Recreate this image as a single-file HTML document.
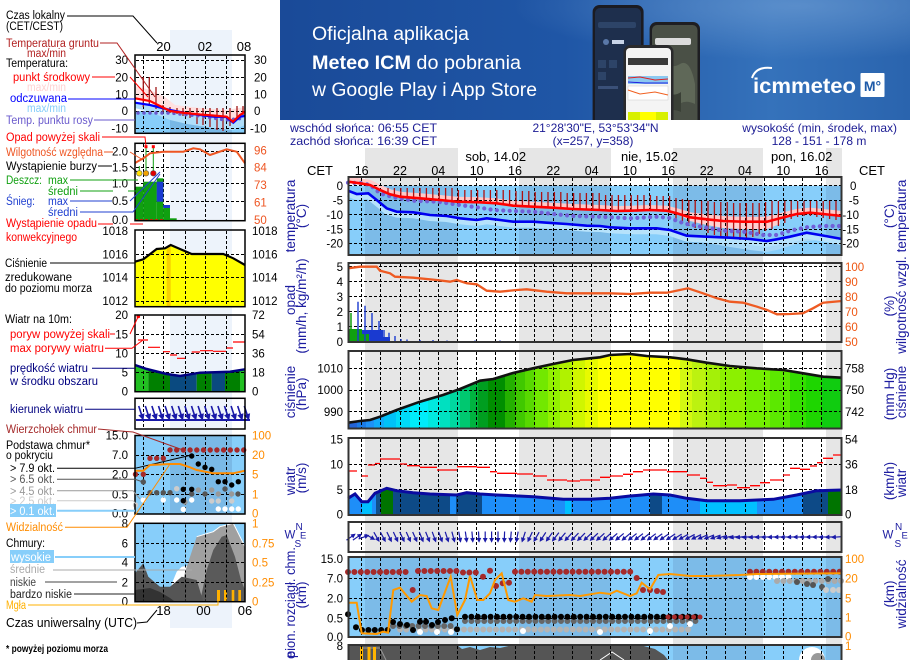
<!DOCTYPE html>
<html><head><meta charset="utf-8">
<style>
html,body{margin:0;padding:0;background:#fff;width:910px;height:660px;overflow:hidden;}
svg{display:block;overflow:hidden;font-family:"Liberation Sans",Arial,sans-serif;}
</style></head><body>
<svg width="910" height="660" viewBox="0 0 910 660" xmlns="http://www.w3.org/2000/svg" xmlns:xlink="http://www.w3.org/1999/xlink">
<defs>
 <linearGradient id="bn" x1="0" y1="0" x2="1" y2="0">
  <stop offset="0" stop-color="#1a4a98"/><stop offset="0.45" stop-color="#1f56a6"/>
  <stop offset="0.78" stop-color="#3572bb"/><stop offset="1" stop-color="#2a64ae"/>
 </linearGradient>
 <radialGradient id="bh" cx="0.82" cy="0.05" r="0.45">
  <stop offset="0" stop-color="#6a9ad2" stop-opacity="0.7"/><stop offset="1" stop-color="#6a9ad2" stop-opacity="0"/>
 </radialGradient>
 <path id="v77" d="M361.5 0v77M380.5 0v77M400.5 0v77M419.5 0v77M438.5 0v77M457.5 0v77M476.5 0v77M495.5 0v77M515.5 0v77M534.5 0v77M553.5 0v77M572.5 0v77M591.5 0v77M610.5 0v77M630.5 0v77M649.5 0v77M668.5 0v77M687.5 0v77M706.5 0v77M725.5 0v77M745.5 0v77M764.5 0v77M783.5 0v77M802.5 0v77M821.5 0v77"/>
 <path id="v30" d="M361.5 0v30M380.5 0v30M400.5 0v30M419.5 0v30M438.5 0v30M457.5 0v30M476.5 0v30M495.5 0v30M515.5 0v30M534.5 0v30M553.5 0v30M572.5 0v30M591.5 0v30M610.5 0v30M630.5 0v30M649.5 0v30M668.5 0v30M687.5 0v30M706.5 0v30M725.5 0v30M745.5 0v30M764.5 0v30M783.5 0v30M802.5 0v30M821.5 0v30"/>
 <path id="v14" d="M361.5 0v14M380.5 0v14M400.5 0v14M419.5 0v14M438.5 0v14M457.5 0v14M476.5 0v14M495.5 0v14M515.5 0v14M534.5 0v14M553.5 0v14M572.5 0v14M591.5 0v14M610.5 0v14M630.5 0v14M649.5 0v14M668.5 0v14M687.5 0v14M706.5 0v14M725.5 0v14M745.5 0v14M764.5 0v14M783.5 0v14M802.5 0v14M821.5 0v14"/>
 <path id="mv" d="M143.5 0v76M163.5 0v76M185.5 0v76M205.5 0v76M226.5 0v76"/>
 <g id="ar"><path d="M0 -5.5V2.5" stroke="#1a1aa8" stroke-width="1.2" fill="none"/><path d="M-2.4 1L0 5.8L2.4 1Z" fill="#1a1aa8"/></g>
 <clipPath id="cp"><polygon points="348,422.7 360,421 370,420 380,416.7 396.7,410 420,401.7 443,395 460,389 480,380.7 493.3,379 513,373 533,368.3 553,364 573,360 590,358.3 600,357.3 610,355 630,354 646.7,356 670,357.3 686.7,359.3 706.7,362.7 730,366 756.7,368.3 783.3,370 803.3,373.3 823.3,376.7 842,377.7 842,429 348,429"/></clipPath>
 <clipPath id="cw"><polygon points="348,498.3 355,494 361.7,501.7 368,501.7 375,493.3 386.7,488.3 396.7,490.7 413,492.7 430,494 456.7,495 466.7,492.7 480,494 496.7,495 513.3,495.7 533.3,496.7 563.3,499.3 590,499.3 610,498.3 630,496 653.3,494 670,495 686.7,498.3 706.7,500.7 740,500.7 773.3,499.3 796.7,495 816.7,490.7 842,490 842,516 348,516"/></clipPath>
 <clipPath id="mcp"><polygon points="135,261.7 143.3,259.3 156.7,249 165,248.3 170.7,245 180,249 191.7,254 223.3,254 233.3,258.3 245,265 245,307 135,307"/></clipPath>
 <clipPath id="mcw"><polygon points="135,365 146.7,369 166.7,374 180,376 200,372.7 230,371.7 245,369.3 245,392 135,392"/></clipPath>
</defs>

<rect width="910" height="660" fill="#fff"/>

<!-- ============ BANNER ============ -->
<rect x="280" y="0" width="630" height="120" fill="url(#bn)"/>
<rect x="280" y="0" width="630" height="120" fill="url(#bh)"/>
<text x="312" y="40" font-size="19" fill="#fff" textLength="157" lengthAdjust="spacingAndGlyphs">Oficjalna aplikacja</text>
<text x="312" y="69" font-size="19" fill="#fff" textLength="209" lengthAdjust="spacingAndGlyphs"><tspan font-weight="bold">Meteo ICM</tspan> do pobrania</text>
<text x="312" y="96" font-size="19" fill="#fff" textLength="225" lengthAdjust="spacingAndGlyphs">w Google Play i App Store</text>
<!-- phones -->
<path d="M592.6 120V12a7 7 0 0 1 7-7h37a7 7 0 0 1 7 7V120Z" fill="#1b1b22"/>
<path d="M595 120V13a5 5 0 0 1 5-5h36a5 5 0 0 1 5 5V120Z" fill="#1e2f4d"/>
<rect x="598" y="22" width="38" height="6" rx="2" fill="#2d4468"/>
<circle cx="606" cy="42" r="3" fill="#5a78a8"/><rect x="612" y="40" width="12" height="4" fill="#c8d4e8"/>
<rect x="598" y="60" width="8" height="8" fill="#2d4468"/><rect x="609" y="60" width="8" height="8" fill="#2d4468"/>
<rect x="598" y="72" width="8" height="8" fill="#2d4468"/><rect x="598" y="86" width="20" height="3" fill="#3a5078"/>
<path d="M649.6 120V29a7 7 0 0 1 7-7h36.4a7 7 0 0 1 7 7V120Z" fill="#1e1e22"/>
<path d="M652 120V30a5 5 0 0 1 5-5h35.5a5 5 0 0 1 5 5V120Z" fill="#4a5046"/>
<rect x="655" y="38" width="36" height="7" rx="2" fill="#dcdcdc"/>
<path d="M660 60 q10 10 20 4 t15 20 v20 q-12 -6 -20 4 t-15 -10Z" fill="#5f6858"/>
<path d="M665 90 q8 8 16 2 v20 q-8 -4 -16 0Z" fill="#3a4036"/>
<path d="M623.5 120V52a7 7 0 0 1 7-7h36a7 7 0 0 1 7 7V120Z" fill="#2a2a2c"/>
<path d="M626 120V52a4 4 0 0 1 4-4h37a4 4 0 0 1 4 4V120Z" fill="#f4f4f4"/>
<rect x="628" y="58" width="40" height="7" fill="#3a3a3a"/>
<rect x="628" y="76" width="40" height="8" fill="#8cc8f0"/>
<path d="M628 78 L640 77 L655 80 L668 79" stroke="#e02020" stroke-width="1" fill="none"/>
<path d="M628 82 L645 83 L668 83" stroke="#2020e0" stroke-width="1" fill="none"/>
<rect x="628" y="86" width="40" height="14" fill="#fff" stroke="#ccc" stroke-width="0.5"/>
<path d="M628 90 L640 94 L655 92 L668 95" stroke="#f06020" stroke-width="1" fill="none"/>
<rect x="628" y="112" width="40" height="8" fill="#d8f000"/><rect x="640" y="112" width="16" height="8" fill="#ffff00"/>
<!-- logo -->
<path d="M752 78 Q756 66 772 68" stroke="#fff" stroke-width="2" fill="none"/>
<text x="753" y="93" font-size="21" font-weight="bold" fill="#fff" textLength="103" lengthAdjust="spacingAndGlyphs">icmmeteo</text>
<rect x="860.5" y="73" width="24" height="24" rx="1" fill="#fff"/>
<text x="872.5" y="91" font-size="14" font-weight="bold" fill="#1e5aa8" text-anchor="middle">M°</text>

<!-- ============ HEADER ============ -->
<g fill="#1c1c94" font-size="12">
<text x="290" y="132" textLength="147" lengthAdjust="spacingAndGlyphs">wschód słońca: 06:55 CET</text>
<text x="290" y="145" textLength="147" lengthAdjust="spacingAndGlyphs">zachód słońca: 16:39 CET</text>
<text x="595.5" y="132" text-anchor="middle">21°28'30"E, 53°53'34"N</text>
<text x="593" y="145" text-anchor="middle">(x=257,  y=358)</text>
<text x="897" y="132" text-anchor="end">wysokość (min, środek, max)</text>
<text x="819" y="145" text-anchor="middle">128 - 151 - 178 m</text>
</g>

<!-- night bands -->
<g fill="#e6e6e6">
<rect x="365" y="148" width="93" height="512"/><rect x="519" y="148" width="92" height="512"/>
<rect x="673" y="148" width="90" height="512"/><rect x="826" y="148" width="16" height="512"/>
</g>

<g font-size="13" text-anchor="middle" fill="#000">
<text x="495.7" y="161">sob, 14.02</text><text x="649.5" y="161">nie, 15.02</text><text x="801.7" y="161">pon, 16.02</text>
</g>
<g font-size="12.5" text-anchor="middle" fill="#000">
<text x="361.7" y="175">16</text><text x="400" y="175">22</text><text x="438.3" y="175">04</text><text x="476.7" y="175">10</text>
<text x="515" y="175">16</text><text x="553.3" y="175">22</text><text x="591.7" y="175">04</text><text x="630" y="175">10</text>
<text x="668.3" y="175">16</text><text x="706.7" y="175">22</text><text x="745" y="175">04</text><text x="783.3" y="175">10</text>
<text x="821.7" y="175">16</text>
</g>
<text x="307" y="175" font-size="13">CET</text>
<text x="859" y="175" font-size="13">CET</text>

<!-- ============ P1 TEMPERATURE ============ -->
<g fill="#87cefa"><rect x="348" y="185.7" width="17" height="69.3"/><rect x="458" y="185.7" width="61" height="69.3"/><rect x="611" y="185.7" width="62" height="69.3"/><rect x="763" y="185.7" width="63" height="69.3"/></g>
<g fill="#7cbbe8"><rect x="365" y="185.7" width="93" height="69.3"/><rect x="519" y="185.7" width="92" height="69.3"/><rect x="673" y="185.7" width="90" height="69.3"/><rect x="826" y="185.7" width="16" height="69.3"/></g>
<polygon points="686.7,235.7 706.7,236.7 730,237.7 750,239 766.7,241 776.7,239.3 790,236.7 806.7,232.7 820,235 820,240 806.7,241 790,246 776.7,250 766.7,252 750,250 730,247 706.7,243 686.7,239" fill="#a8d8f6"/>
<polyline points="348,193.7 356.7,197 368.3,196.3 376.7,203 386.7,211.3 396.7,214.7 413.3,215.3 430,218 446.7,219 460,221.3 476.7,223 486.7,221.3 500,223 513.3,224.7 533.3,224.7 546.7,225.7 566.7,227 586.7,228.7 600,229 610,230.3 630,231.3 656.7,231.3 670,233 686.7,238.7 706.7,239.7 730,240.7 750,242 766.7,244 776.7,242.3 790,239.7 806.7,235.7 820,238 842,242" fill="none" stroke="#b6e2fb" stroke-width="6"/>
<polygon points="676.7,213.3 690,217.3 706.7,219.3 723,221 743,221.7 767,221.7 780,218.3 780,224 767,229 743,229 723,228 706.7,225 690,221" fill="#ffd0d0"/>
<polyline points="348,179.7 360,181.3 370,183 380,188 390,192.3 400,194.7 420,196.3 440,198 456.7,199.7 480,200.3 496.7,201.3 513,203.7 533,204.7 553,205.7 573,207 600,208 616.7,209 630,208.7 650,208 666.7,208.7 676.7,211.3 690,215.3 706.7,217.3 723,219 743,219.7 767,219.7 780,216.3 796.7,212 810,210.7 823,212 842,214" fill="none" stroke="#ffc8c8" stroke-width="6"/>
<g stroke="#000" stroke-width="1" stroke-dasharray="3 2" fill="none">
<use xlink:href="#v77" href="#v77" y="178"/>
<path d="M349 185.5H841M349 200.5H841M349 214.5H841M349 229.5H841M349 243.5H841"/>
</g>
<path stroke="#b01010" stroke-width="1.3" fill="none" d="M388 188V193M394.4 188V195.5M400.8 188V197M407.2 188V197.5M413.6 188V198M420 188V198.5M426.4 188V199M432.8 188V199.5M439.2 188V200M445.6 188V201M452 188V201.5M458.4 190V202M464.8 190V202M471.2 190V202M477.6 190V202.5M484 190V203M490.4 190V203M496.8 190V203.5M503.2 190V204.5M509.6 190V205.5M516 191V206M522.4 191V206.5M528.8 191V207M535.2 192V207M541.6 192V207.5M548 192V208M554.4 192V208M560.8 192V208.5M567.2 193V209M573.6 193V209M580 193V209.5M586.4 193V210M592.8 193V210M599.2 193V210.5M605.6 195V211M612 195V211M618.4 195V211M624.8 195V211M631.2 195V211M637.6 195V211M644 195V210.5M650.4 195V210.5M656.8 196V211M663.2 196V211M669.6 196V212M676 198V220M682.4 199V223M688.8 200V226M695.2 200V228M701.6 201V230M708 201V233M714.4 202V235M720.8 202V237M727.2 202V238M733.6 203V239M740 203V240M746.4 203V238M752.8 203V237M759.2 203V234M765.6 202V231M772 201V229M778.4 201V226M784.8 201V223M791.2 201V219M797.6 201V217M804 201V216M810.4 201V216M816.8 201V217M823.2 201V218M829.6 201V219M836 201V220"/>
<path d="M348 182.7L360 183 370 185 380 193.3 393.3 197.3 413.3 200.7 436.7 201.7 453 204 466.7 206 480 207.7 493.3 210 513.3 211 533.3 211.7 553 214 573 216 600 216.7 630 218.3 656.7 216.7 670 218 680 222 686.7 224 710 228.3 723.3 230.7 743.3 231.7 763.3 235 776.7 235 790 230.7 806.7 227.3 823.3 226 842 226" fill="none" stroke="#7060d8" stroke-width="4.2" stroke-dasharray="0 6.4" stroke-linecap="round"/>
<polyline points="348,190.7 356.7,194 368.3,193.3 376.7,200 386.7,208.3 396.7,211.7 413.3,212.3 430,215 446.7,216 460,218.3 476.7,220 486.7,218.3 500,220 513.3,221.7 533.3,221.7 546.7,222.7 566.7,224 586.7,225.7 600,226 610,227.3 630,228.3 656.7,228.3 670,230 686.7,235.7 706.7,236.7 730,237.7 750,239 766.7,241 776.7,239.3 790,236.7 806.7,232.7 820,235 842,239" fill="none" stroke="#0000f0" stroke-width="2.6"/>
<polyline points="348,181.7 360,183.3 370,185 380,190 390,194.3 400,196.7 420,198.3 440,200 456.7,201.7 480,202.3 496.7,203.3 513,205.7 533,206.7 553,207.7 573,209 600,210 616.7,211 630,210.7 650,210 666.7,210.7 676.7,213.3 690,217.3 706.7,219.3 723,221 743,221.7 767,221.7 780,218.3 796.7,214 810,212.7 823,214 842,216" fill="none" stroke="#ff0000" stroke-width="2.6"/>

<!-- ============ P2 PRECIP ============ -->
<g stroke="#000" stroke-width="1" stroke-dasharray="3 2" fill="none">
<use xlink:href="#v77" href="#v77" y="264"/>
<path d="M349 266.5H841M349 281.5H841M349 296.5H841M349 311.5H841M349 326.5H841"/>
</g>
<rect x="348" y="329" width="14" height="13" fill="#10a010"/>
<rect x="362" y="330" width="21" height="12" fill="#1a3ad0"/>
<rect x="362" y="334" width="7" height="8" fill="#10a010"/>
<rect x="383" y="337" width="7" height="5" fill="#1a3ad0"/>
<path d="M351 342V313" stroke="#10a010" stroke-width="1.5"/>
<path stroke="#1a3ad0" stroke-width="1.4" d="M358 342V301.7M365 342V305.7M372 342V313M379 342V321M384 342V330M389 342V332.7M395 342V336M401 342V339M407 342V339.5M420 342V340M433 342V340M447 342V340.5M475 342V340.5M500 342V340.5M520 342V341"/>
<polyline points="348,268.3 360,266.7 376.7,266.7 380,270.7 390,273.3 395,276.7 413.3,277.7 436.7,280 450,281.7 456.7,280 466.7,283.3 476.7,284.3 486.7,290.7 500,291.7 516.7,290 526.7,289.3 546.7,291.7 566.7,293.3 600,293.3 610,293.3 630,294 650,292.7 667,292.7 688,288.3 703,293.3 717,298.3 730,301.7 743,302.7 757,306.7 767,310 777,314.3 790,314 803,313.3 813,308.3 823,302.7 842,301" fill="none" stroke="#ee5a22" stroke-width="2.3"/>

<!-- ============ P3 PRESSURE ============ -->
<g clip-path="url(#cp)">
<rect x="348" y="350" width="10" height="80" fill="#2464d8"/><rect x="357" y="350" width="10" height="80" fill="#1a7ce8"/>
<rect x="366" y="350" width="9" height="80" fill="#1e92f8"/><rect x="374" y="350" width="11" height="80" fill="#10acfa"/>
<rect x="384" y="350" width="13" height="80" fill="#00c2f8"/><rect x="396" y="350" width="15" height="80" fill="#00daf8"/>
<rect x="410" y="350" width="19" height="80" fill="#00ecfa"/><rect x="428" y="350" width="13" height="80" fill="#00e8e0"/>
<rect x="440" y="350" width="11" height="80" fill="#00e0c0"/><rect x="450" y="350" width="11" height="80" fill="#00d8a0"/>
<rect x="460" y="350" width="11" height="80" fill="#00c870"/><rect x="470" y="350" width="9" height="80" fill="#00b440"/>
<rect x="478" y="350" width="11" height="80" fill="#009e20"/><rect x="488" y="350" width="18" height="80" fill="#008e00"/>
<rect x="505" y="350" width="11" height="80" fill="#24b000"/><rect x="515" y="350" width="11" height="80" fill="#40c800"/>
<rect x="525" y="350" width="11" height="80" fill="#58d800"/><rect x="535" y="350" width="14" height="80" fill="#72e800"/>
<rect x="548" y="350" width="13" height="80" fill="#92f000"/><rect x="560" y="350" width="13" height="80" fill="#b0f200"/>
<rect x="572" y="350" width="14" height="80" fill="#d0f600"/><rect x="585" y="350" width="14" height="80" fill="#e8fa00"/>
<rect x="598" y="350" width="83" height="80" fill="#ffff00"/><rect x="680" y="350" width="13" height="80" fill="#d4f812"/>
<rect x="692" y="350" width="14" height="80" fill="#bcf210"/><rect x="705" y="350" width="16" height="80" fill="#a4f008"/>
<rect x="720" y="350" width="26" height="80" fill="#8cf000"/><rect x="745" y="350" width="26" height="80" fill="#74ee00"/>
<rect x="770" y="350" width="21" height="80" fill="#5ce800"/><rect x="790" y="350" width="17" height="80" fill="#34de00"/>
<rect x="806" y="350" width="17" height="80" fill="#1ed600"/><rect x="822" y="350" width="20" height="80" fill="#10cc10"/>
</g>
<g stroke="#000" stroke-width="1" stroke-dasharray="3 2" fill="none">
<use xlink:href="#v77" href="#v77" y="352"/>
<path d="M349 368.5H841M349 390.5H841M349 411.5H841"/>
</g>
<polyline points="348,422.7 360,421 370,420 380,416.7 396.7,410 420,401.7 443,395 460,389 480,380.7 493.3,379 513,373 533,368.3 553,364 573,360 590,358.3 600,357.3 610,355 630,354 646.7,356 670,357.3 686.7,359.3 706.7,362.7 730,366 756.7,368.3 783.3,370 803.3,373.3 823.3,376.7 842,377.7" fill="none" stroke="#111" stroke-width="2.6"/>

<!-- ============ P4 WIND ============ -->
<g clip-path="url(#cw)">
<rect x="348" y="485" width="15" height="31" fill="#1e8ef8"/><rect x="362" y="485" width="11" height="31" fill="#00c0ff"/>
<rect x="372" y="485" width="5" height="31" fill="#1e8ef8"/><rect x="376" y="485" width="6" height="31" fill="#10508a"/>
<rect x="381" y="485" width="13" height="31" fill="#007400"/><rect x="393" y="485" width="58" height="31" fill="#0d4a87"/>
<rect x="450" y="485" width="7" height="31" fill="#1e8ef8"/><rect x="456" y="485" width="27" height="31" fill="#0d4a87"/>
<rect x="482" y="485" width="84" height="31" fill="#1e8ef8"/><rect x="565" y="485" width="7" height="31" fill="#00c0ff"/>
<rect x="571" y="485" width="80" height="31" fill="#1e8ef8"/><rect x="650" y="485" width="13" height="31" fill="#0d4a87"/>
<rect x="662" y="485" width="39" height="31" fill="#1e8ef8"/><rect x="700" y="485" width="58" height="31" fill="#00c0ff"/>
<rect x="757" y="485" width="47" height="31" fill="#1e8ef8"/><rect x="803" y="485" width="26" height="31" fill="#0d4a87"/>
<rect x="828" y="485" width="14" height="31" fill="#007400"/>
</g>
<g stroke="#000" stroke-width="1" stroke-dasharray="3 2" fill="none">
<use xlink:href="#v77" href="#v77" y="439"/>
<path d="M349 464.5H841M349 489.5H841"/>
</g>
<polyline points="348,498.3 355,494 361.7,501.7 368,501.7 375,493.3 386.7,488.3 396.7,490.7 413,492.7 430,494 456.7,495 466.7,492.7 480,494 496.7,495 513.3,495.7 533.3,496.7 563.3,499.3 590,499.3 610,498.3 630,496 653.3,494 670,495 686.7,498.3 706.7,500.7 740,500.7 773.3,499.3 796.7,495 816.7,490.7 842,490" fill="none" stroke="#0a0aa0" stroke-width="3"/>
<path fill="none" stroke="#ff0000" stroke-width="1.3" d="M348 471H357M361.7 476H368M368 465H375M375 463.5H380M380 459H400M400 464H407M407 465.7H420M420 467.3H437M437 470H457M457 466.7H477M477 467.3H490M490 471.7H497M497 473.3H517M517 474H533M533 476H547M547 480H567M567 481H580M580 480H600M600 477.3H610M610 476H623M623 474.3H633M633 471.7H643M643 470H667M667 471.7H687M687 475H700M700 478.3H707M707 482.3H713M713 485.7H727M727 485H737M737 487.7H750M750 485.7H760M760 482.7H770M770 480H783M783 475H790M790 468.3H800M800 469.3H810M810 466H817M817 462.7H823M823 458.3H833M833 455H842"/>

<!-- ============ P5 DIRECTION ============ -->
<g stroke="#000" stroke-width="1" stroke-dasharray="3 2" fill="none">
<use xlink:href="#v30" href="#v30" y="522"/>
</g>
<g>
<use href="#ar" xlink:href="#ar" transform="translate(351,537) rotate(-125)"/><use href="#ar" xlink:href="#ar" transform="translate(357.4,537) rotate(-125)"/><use href="#ar" xlink:href="#ar" transform="translate(363.8,537) rotate(-110)"/><use href="#ar" xlink:href="#ar" transform="translate(370.2,537) rotate(-60)"/>
<use href="#ar" xlink:href="#ar" transform="translate(376.6,537) rotate(-30)"/><use href="#ar" xlink:href="#ar" transform="translate(383,537) rotate(-28)"/><use href="#ar" xlink:href="#ar" transform="translate(389.3,537) rotate(-26)"/><use href="#ar" xlink:href="#ar" transform="translate(395.7,537) rotate(-25)"/>
<use href="#ar" xlink:href="#ar" transform="translate(402.1,537) rotate(-25)"/><use href="#ar" xlink:href="#ar" transform="translate(408.5,537) rotate(-24)"/><use href="#ar" xlink:href="#ar" transform="translate(414.9,537) rotate(-24)"/><use href="#ar" xlink:href="#ar" transform="translate(421.3,537) rotate(-22)"/>
<use href="#ar" xlink:href="#ar" transform="translate(427.7,537) rotate(-22)"/><use href="#ar" xlink:href="#ar" transform="translate(434.1,537) rotate(-20)"/><use href="#ar" xlink:href="#ar" transform="translate(440.5,537) rotate(-20)"/><use href="#ar" xlink:href="#ar" transform="translate(446.9,537) rotate(-18)"/>
<use href="#ar" xlink:href="#ar" transform="translate(453.3,537) rotate(-15)"/><use href="#ar" xlink:href="#ar" transform="translate(459.7,537) rotate(-10)"/><use href="#ar" xlink:href="#ar" transform="translate(466.1,537) rotate(-8)"/><use href="#ar" xlink:href="#ar" transform="translate(472.4,537) rotate(-5)"/>
<use href="#ar" xlink:href="#ar" transform="translate(478.8,537) rotate(-3)"/><use href="#ar" xlink:href="#ar" transform="translate(485.2,537)"/><use href="#ar" xlink:href="#ar" transform="translate(491.6,537)"/><use href="#ar" xlink:href="#ar" transform="translate(498,537)"/>
<use href="#ar" xlink:href="#ar" transform="translate(504.4,537) rotate(2)"/><use href="#ar" xlink:href="#ar" transform="translate(510.8,537) rotate(5)"/><use href="#ar" xlink:href="#ar" transform="translate(517.2,537) rotate(10)"/><use href="#ar" xlink:href="#ar" transform="translate(523.6,537) rotate(18)"/>
<use href="#ar" xlink:href="#ar" transform="translate(530,537) rotate(25)"/><use href="#ar" xlink:href="#ar" transform="translate(536.4,537) rotate(30)"/><use href="#ar" xlink:href="#ar" transform="translate(542.8,537) rotate(33)"/><use href="#ar" xlink:href="#ar" transform="translate(549.2,537) rotate(36)"/>
<use href="#ar" xlink:href="#ar" transform="translate(555.5,537) rotate(38)"/><use href="#ar" xlink:href="#ar" transform="translate(561.9,537) rotate(40)"/><use href="#ar" xlink:href="#ar" transform="translate(568.3,537) rotate(42)"/><use href="#ar" xlink:href="#ar" transform="translate(574.7,537) rotate(44)"/>
<use href="#ar" xlink:href="#ar" transform="translate(581.1,537) rotate(45)"/><use href="#ar" xlink:href="#ar" transform="translate(587.5,537) rotate(46)"/><use href="#ar" xlink:href="#ar" transform="translate(593.9,537) rotate(47)"/><use href="#ar" xlink:href="#ar" transform="translate(600.3,537) rotate(48)"/>
<use href="#ar" xlink:href="#ar" transform="translate(606.7,537) rotate(48)"/><use href="#ar" xlink:href="#ar" transform="translate(613.1,537) rotate(49)"/><use href="#ar" xlink:href="#ar" transform="translate(619.5,537) rotate(50)"/><use href="#ar" xlink:href="#ar" transform="translate(625.9,537) rotate(50)"/>
<use href="#ar" xlink:href="#ar" transform="translate(632.3,537) rotate(51)"/><use href="#ar" xlink:href="#ar" transform="translate(638.6,537) rotate(52)"/><use href="#ar" xlink:href="#ar" transform="translate(645,537) rotate(52)"/><use href="#ar" xlink:href="#ar" transform="translate(651.4,537) rotate(53)"/>
<use href="#ar" xlink:href="#ar" transform="translate(657.8,537) rotate(54)"/><use href="#ar" xlink:href="#ar" transform="translate(664.2,537) rotate(55)"/><use href="#ar" xlink:href="#ar" transform="translate(670.6,537) rotate(56)"/><use href="#ar" xlink:href="#ar" transform="translate(677,537) rotate(58)"/>
<use href="#ar" xlink:href="#ar" transform="translate(683.4,537) rotate(60)"/><use href="#ar" xlink:href="#ar" transform="translate(689.8,537) rotate(62)"/><use href="#ar" xlink:href="#ar" transform="translate(696.2,537) rotate(64)"/><use href="#ar" xlink:href="#ar" transform="translate(702.6,537) rotate(66)"/>
<use href="#ar" xlink:href="#ar" transform="translate(709,537) rotate(68)"/><use href="#ar" xlink:href="#ar" transform="translate(715.4,537) rotate(70)"/><use href="#ar" xlink:href="#ar" transform="translate(721.7,537) rotate(74)"/><use href="#ar" xlink:href="#ar" transform="translate(728.1,537) rotate(78)"/>
<use href="#ar" xlink:href="#ar" transform="translate(734.5,537) rotate(80)"/><use href="#ar" xlink:href="#ar" transform="translate(740.9,537) rotate(82)"/><use href="#ar" xlink:href="#ar" transform="translate(747.3,537) rotate(84)"/><use href="#ar" xlink:href="#ar" transform="translate(753.7,537) rotate(85)"/>
<use href="#ar" xlink:href="#ar" transform="translate(760.1,537) rotate(86)"/><use href="#ar" xlink:href="#ar" transform="translate(766.5,537) rotate(87)"/><use href="#ar" xlink:href="#ar" transform="translate(772.9,537) rotate(87)"/><use href="#ar" xlink:href="#ar" transform="translate(779.3,537) rotate(88)"/>
<use href="#ar" xlink:href="#ar" transform="translate(785.7,537) rotate(88)"/><use href="#ar" xlink:href="#ar" transform="translate(792.1,537) rotate(88)"/><use href="#ar" xlink:href="#ar" transform="translate(798.5,537) rotate(89)"/><use href="#ar" xlink:href="#ar" transform="translate(804.8,537) rotate(89)"/>
<use href="#ar" xlink:href="#ar" transform="translate(811.2,537) rotate(89)"/><use href="#ar" xlink:href="#ar" transform="translate(817.6,537) rotate(89)"/><use href="#ar" xlink:href="#ar" transform="translate(824,537) rotate(88)"/><use href="#ar" xlink:href="#ar" transform="translate(830.4,537) rotate(87)"/>
<use href="#ar" xlink:href="#ar" transform="translate(836.8,537) rotate(86)"/>
</g>

<!-- ============ P6 CLOUD BASE ============ -->
<g fill="#87cefa"><rect x="348" y="557" width="17" height="80"/><rect x="458" y="557" width="61" height="80"/><rect x="611" y="557" width="62" height="80"/><rect x="763" y="557" width="63" height="80"/></g>
<g fill="#7cbbe8"><rect x="365" y="557" width="93" height="80"/><rect x="519" y="557" width="92" height="80"/><rect x="673" y="557" width="90" height="80"/><rect x="826" y="557" width="16" height="80"/></g>
<g stroke="#000" stroke-width="1" stroke-dasharray="3 2" fill="none">
<use xlink:href="#v77" href="#v77" y="558"/>
<path d="M349 578.5H841M349 598.5H841M349 618.5H841"/>
</g>
<g fill="none" stroke-linecap="round">
<path d="M400 629.5H690" stroke="#b4b4b4" stroke-width="6" stroke-dasharray="0 6.4"/>
<path d="M393 626H457M465 621H700" stroke="#666" stroke-width="6" stroke-dasharray="0 6.4"/>
<path d="M362 630H388M465 616.7H700" stroke="#000" stroke-width="6" stroke-dasharray="0 6.4"/>
<path d="M348 572H408M418 571H457M463 572.5H480M515 571.7H633M750 571.7H842" stroke="#a52a2a" stroke-width="6" stroke-dasharray="0 6.4"/>
<path d="M750 577H790" stroke="#fff" stroke-width="6" stroke-dasharray="0 6.4"/>
<path d="M777 581H842" stroke="#aaa" stroke-width="6" stroke-dasharray="0 6.4"/>
<path d="M668 617H705" stroke="#a52a2a" stroke-width="5" stroke-dasharray="0 6.4"/>
</g>
<g fill="#000"><circle cx="348" cy="614.3" r="3"/><circle cx="356" cy="627.3" r="3"/><circle cx="393" cy="622" r="3"/><circle cx="400" cy="624" r="3"/><circle cx="407" cy="625" r="3"/><circle cx="413" cy="630" r="3"/><circle cx="420" cy="621.7" r="3"/><circle cx="426" cy="621.7" r="3"/><circle cx="432" cy="625" r="3"/><circle cx="438" cy="622" r="3"/><circle cx="445" cy="620" r="3"/><circle cx="451.7" cy="618.3" r="3"/><circle cx="457" cy="629.3" r="3"/></g>
<g fill="#fff"><circle cx="420" cy="632" r="3"/><circle cx="437" cy="632" r="3"/><circle cx="451" cy="632" r="3"/><circle cx="523" cy="631" r="3"/><circle cx="600" cy="632" r="3"/><circle cx="650" cy="631" r="3"/><circle cx="670" cy="626" r="3"/><circle cx="690" cy="624" r="3"/></g>
<g fill="#a52a2a"><circle cx="412.7" cy="590" r="3"/><circle cx="483" cy="576.7" r="3"/><circle cx="490" cy="570.7" r="3"/><circle cx="496" cy="586" r="3"/><circle cx="502.7" cy="583.3" r="3"/><circle cx="509" cy="582.7" r="3"/><circle cx="636.7" cy="578" r="3"/><circle cx="643" cy="590" r="3"/><circle cx="650" cy="590" r="3"/><circle cx="657" cy="591" r="3"/><circle cx="663" cy="592" r="3"/></g>
<g fill="#555"><circle cx="797" cy="582" r="3"/><circle cx="807" cy="584" r="3"/><circle cx="813" cy="585" r="3"/><circle cx="822" cy="587" r="3"/><circle cx="828" cy="579" r="3"/></g>
<g fill="#ccc"><circle cx="826" cy="590" r="3"/><circle cx="833" cy="590" r="3"/><circle cx="839" cy="590" r="3"/></g>
<polyline points="348,602.7 356.7,602.7 361.7,633.3 376.7,634 383,631.7 388,632.7 393.3,590 400,587.7 411.7,601.7 420,595 426.7,596 431.7,608.3 438.3,610 450.7,576.7 457.3,615 465,600 470,576 477.3,600 483.3,600 490,593.3 495,580 501.7,573.3 508.3,600 515,601.7 523.3,598.3 531.7,601.7 535,595 546.7,596 570,595 580,596 600,592.7 610,594 616.7,590.7 630,596 636.7,593.3 641.7,582.7 650,589.3 658.3,575 670,574 690,576 706.7,576 740,575 756.7,574 842,573.3" fill="none" stroke="#ff9900" stroke-width="2"/>

<!-- ============ P7 CLOUD COVER ============ -->
<g fill="#87cefa"><rect x="348" y="645" width="17" height="15"/><rect x="458" y="645" width="61" height="15"/><rect x="611" y="645" width="62" height="15"/><rect x="763" y="645" width="63" height="15"/></g>
<g fill="#7cbbe8"><rect x="365" y="645" width="93" height="15"/><rect x="519" y="645" width="92" height="15"/><rect x="673" y="645" width="90" height="15"/><rect x="826" y="645" width="16" height="15"/></g>
<polygon points="348,645 457,645 462,649 470,647 480,650 490,647 500,648 513,645 640,645 655,649 664,655 668,660 348,660" fill="#555"/>
<path d="M362 648H380L386 660" stroke="#999" stroke-width="1" fill="none"/>
<path d="M600 660L612 652L624 660" stroke="#fff" stroke-width="1" fill="none"/>
<path d="M799 660A13 13 0 0 1 825 660Z" fill="#fff"/>
<path d="M811 660A7 7 0 0 1 825 660Z" fill="#999"/>
<g fill="#ffb400"><rect x="360" y="647" width="3" height="13"/><rect x="367.5" y="647" width="3" height="13"/><rect x="373" y="647" width="3" height="13"/></g>
<g stroke="#000" stroke-width="1" stroke-dasharray="3 2" fill="none"><use xlink:href="#v14" href="#v14" y="646"/></g>

<!-- panel borders -->
<g fill="none" stroke="#333" stroke-width="2">
<rect x="348.5" y="177" width="493" height="78"/>
<rect x="348.5" y="263" width="493" height="79"/>
<rect x="348.5" y="351" width="493" height="77.5"/>
<rect x="348.5" y="438" width="493" height="77"/>
<rect x="348.5" y="522" width="493" height="30"/>
<rect x="348.5" y="557" width="493" height="80"/>
<path d="M348.5 660V645H841.5V660"/>
</g>

<!-- main axis labels -->
<g font-size="11.5" fill="#000" text-anchor="end">
<text x="343" y="190">0</text><text x="343" y="204.5">-5</text><text x="343" y="219">-10</text><text x="343" y="233.5">-15</text><text x="343" y="247.5">-20</text>
<text x="343" y="271">5</text><text x="343" y="286">4</text><text x="343" y="301">3</text><text x="343" y="316">2</text><text x="343" y="331">1</text><text x="343" y="346">0</text>
<text x="343" y="372.5">1010</text><text x="343" y="394">1000</text><text x="343" y="416">990</text>
<text x="343" y="443.5">15</text><text x="343" y="468.5">10</text><text x="343" y="494">5</text><text x="343" y="518.5">0</text>
<text x="343" y="563">15.0</text><text x="343" y="582.5">7.0</text><text x="343" y="602.5">2.0</text><text x="343" y="622.5">0.5</text><text x="343" y="641">0.0</text>
<text x="343" y="650">8</text>
<text x="859" y="204.5">-5</text><text x="859" y="219">-10</text><text x="859" y="233.5">-15</text><text x="859" y="247.5">-20</text>
</g>
<g font-size="11.5" fill="#000">
<text x="850" y="190">0</text>
<text x="845" y="372.5">758</text><text x="845" y="394">750</text><text x="845" y="416">742</text>
<text x="845" y="443.5">54</text><text x="845" y="468.5">36</text><text x="845" y="494">18</text><text x="845" y="518.5">0</text>
</g>
<g font-size="11.5" fill="#ee5511">
<text x="845" y="271">100</text><text x="845" y="286">90</text><text x="845" y="301">80</text><text x="845" y="316">70</text><text x="845" y="331">60</text><text x="845" y="346">50</text>
</g>
<g font-size="11.5" fill="#ff8c00">
<text x="845" y="563">100</text><text x="845" y="582.5">20</text><text x="845" y="602.5">5</text><text x="845" y="621.5">1</text><text x="845" y="640.5">0</text><text x="845" y="650">1</text>
</g>

<!-- axis titles -->
<g font-size="13.5" fill="#1c1ca0" text-anchor="middle">
<text transform="translate(295,216) rotate(-90)">temperatura</text>
<text transform="translate(306,216) rotate(-90)">(°C)</text>
<text transform="translate(894,216) rotate(-90)">(°C)</text>
<text transform="translate(906,216) rotate(-90)">temperatura</text>
<text transform="translate(295,300) rotate(-90)">opad</text>
<text transform="translate(306,306) rotate(-90)">(mm/h, kg/m²/h)</text>
<text transform="translate(894,306) rotate(-90)">(%)</text>
<text transform="translate(906,305) rotate(-90)">wilgotność wzgl.</text>
<text transform="translate(295,392) rotate(-90)">ciśnienie</text>
<text transform="translate(306,394) rotate(-90)">(hPa)</text>
<text transform="translate(894,394) rotate(-90)">(mm Hg)</text>
<text transform="translate(906,392) rotate(-90)">ciśnienie</text>
<text transform="translate(295,481) rotate(-90)">wiatr</text>
<text transform="translate(306,478) rotate(-90)">(m/s)</text>
<text transform="translate(894,481) rotate(-90)">(km/h)</text>
<text transform="translate(906,483) rotate(-90)">wiatr</text>
<text transform="translate(306,595) rotate(-90)">(km)</text>
<text transform="translate(894,594) rotate(-90)">(km)</text>
<text transform="translate(906,594) rotate(-90)">widzialność</text>
<text transform="translate(295,658) rotate(-90)" text-anchor="start" textLength="111" lengthAdjust="spacingAndGlyphs">pion. rozciągł. chm.</text>
<text transform="translate(295,659) rotate(-90)" text-anchor="start">e</text>
</g>
<g fill="#1c1ca0">
<text x="295.5" y="530" font-size="10">N</text><text x="284.5" y="538.5" font-size="11.5">W</text><text x="300" y="538.5" font-size="9.5">E</text><text x="294.5" y="547" font-size="10">S</text>
<text x="895" y="530" font-size="10">N</text><text x="882.5" y="538.5" font-size="11.5">W</text><text x="901.5" y="538.5" font-size="9.5">E</text><text x="894.5" y="547" font-size="10">S</text>
</g>

<!-- ============ LEGEND COLUMN ============ -->
<rect x="170" y="30" width="62" height="598" fill="#edf3fb"/>

<!-- mini temp -->
<rect x="135" y="111" width="110" height="22" fill="#87cefa"/>
<rect x="170" y="111" width="62" height="22" fill="#78b8e6"/>
<polygon points="135,102 150,105 170,110 187,113 213,116 226,117 233,122 240,117 245,116 245,125 233,130 213,128 187,124 170,120 150,112 135,108" fill="#b0defa"/>
<polygon points="135,86 150,90 165,97 175,105 200,108 226,110 245,107 245,112 240,115 233,122 226.7,117 200,115 185,113 170,111 150,101 135,98" fill="#ffe0e0"/>
<g stroke="#000" stroke-width="1" stroke-dasharray="3 2" fill="none">
<use href="#mv" xlink:href="#mv" y="56"/>
<path d="M136 60.5H244M136 77.5H244M136 94.5H244M136 111.5H244M136 128.5H244"/>
</g>
<path stroke="#a01818" stroke-width="1.3" d="M143.3 77V107M149.3 77V106M156 87V109M163 105V112M170 107V113M177 108V114M183 108V116M190 108V118M197 108V124M203 108V125M210 108V127M217 108V130M223 108V131M230 108V126M237 106V118M243 106V115"/>
<path d="M138 113L170 113 200 116 226 120 245 118" fill="none" stroke="#6a5acd" stroke-width="3.5" stroke-dasharray="0 6" stroke-linecap="round"/>
<polyline points="135,102.7 150,105 170,110 187,113.3 213,116.7 226,117 233.3,122.7 240,116.7 245,116" fill="none" stroke="#0000ff" stroke-width="2.2"/>
<polyline points="135,98.3 150,101 170,111 185,113 200,114.5 213,115.5 226.7,116.7 233,121.7 240,115 245,111.7" fill="none" stroke="#ff0000" stroke-width="2.2"/>
<rect x="135" y="55" width="110" height="78.3" fill="none" stroke="#000" stroke-width="1.5"/>

<!-- mini precip -->
<g stroke="#000" stroke-width="1" stroke-dasharray="3 2" fill="none">
<use href="#mv" xlink:href="#mv" y="144"/>
<path d="M136 151.5H244M136 167.5H244M136 183.5H244M136 201.5H244"/>
</g>
<g fill="#10a010"><rect x="135" y="186.7" width="8.3" height="34"/><rect x="143.3" y="181.7" width="13.4" height="39"/><rect x="156.7" y="178.3" width="6.6" height="42.4"/><rect x="163.3" y="206.7" width="6.7" height="14"/><rect x="170" y="218.3" width="6.7" height="2.4"/></g>
<rect x="156.7" y="181.7" width="6.6" height="20" fill="#1a3ad0"/>
<rect x="163.3" y="205" width="6.7" height="3" fill="#1a3ad0"/>
<path d="M135 220H165" stroke="#ff0000" stroke-width="1.5" stroke-dasharray="3 2"/>
<path d="M146 148V171M153.3 148V171M139.3 166V171" stroke="#10a010" stroke-width="1"/>
<rect x="144.5" y="145.2" width="3" height="3" fill="#ff0000"/><rect x="151.8" y="145.2" width="3" height="3" fill="#ff0000"/>
<circle cx="139.3" cy="173.3" r="2.8" fill="#ffe000" stroke="#555" stroke-width="0.6"/>
<circle cx="146" cy="173.3" r="2.8" fill="#f0a000" stroke="#555" stroke-width="0.6"/>
<circle cx="153.3" cy="173.3" r="2.8" fill="#e00000" stroke="#555" stroke-width="0.6"/>
<polyline points="135,163 143.3,158.3 150,153.3 163.3,151.7 183.3,151.7 193.3,148.3 200,149.3 210,155 226.7,149.3 236.7,151.7 245,163.3" fill="none" stroke="#ee5522" stroke-width="2"/>
<rect x="135" y="143.3" width="110" height="77.4" fill="none" stroke="#000" stroke-width="1.5"/>

<!-- mini pressure -->
<g clip-path="url(#mcp)"><rect x="135" y="240" width="110" height="67" fill="#ffff00"/><rect x="166.7" y="240" width="4" height="67" fill="#f8d000"/></g>
<g stroke="#000" stroke-width="1" stroke-dasharray="3 2" fill="none">
<use href="#mv" xlink:href="#mv" y="231"/>
<path d="M136 254.5H244M136 277.5H244M136 301.5H244"/>
</g>
<polyline points="135,261.7 143.3,259.3 156.7,249 165,248.3 170.7,245 180,249 191.7,254 223.3,254 233.3,258.3 245,265" fill="none" stroke="#000" stroke-width="2.2"/>
<rect x="135" y="230" width="110" height="76.7" fill="none" stroke="#000" stroke-width="1.5"/>

<!-- mini wind -->
<g clip-path="url(#mcw)">
<rect x="135" y="360" width="13.3" height="32" fill="#22c022"/><rect x="148.3" y="360" width="21.7" height="32" fill="#008000"/>
<rect x="170" y="360" width="26.7" height="32" fill="#0a4a80"/><rect x="196.7" y="360" width="15" height="32" fill="#008000"/>
<rect x="211.7" y="360" width="13.3" height="32" fill="#0a4a80"/><rect x="225" y="360" width="15" height="32" fill="#008000"/>
<rect x="240" y="360" width="5" height="32" fill="#22c022"/>
</g>
<g stroke="#000" stroke-width="1" stroke-dasharray="3 2" fill="none">
<use href="#mv" xlink:href="#mv" y="316"/>
<path d="M136 334.5H244M136 353.5H244M136 372.5H244"/>
</g>
<polyline points="135,365 146.7,369 166.7,374 180,376 200,372.7 230,371.7 245,369.3" fill="none" stroke="#000080" stroke-width="2.5"/>
<path fill="none" stroke="#ff0000" stroke-width="1.2" d="M138 340H148M148 347.3H160M163 351.7H170M170 355H177M177 358.3H185M191.7 352H200M200 350.7H213M213 351.3H226M226.7 348H233M233 342H245"/>
<circle cx="138.3" cy="316.5" r="1.8" fill="#ff0000"/>
<rect x="135" y="315" width="110" height="76.7" fill="none" stroke="#000" stroke-width="1.5"/>

<!-- mini direction -->
<g stroke="#000" stroke-width="1" stroke-dasharray="3 2" fill="none"><path d="M143.5 399v30M163.5 399v30M185.5 399v30M205.5 399v30M226.5 399v30"/></g>
<path d="M136 420H250" stroke="#1a1aa8" stroke-width="2"/>
<g>
<use href="#ar" xlink:href="#ar" transform="translate(141,413) rotate(-18) scale(1.35)"/><use href="#ar" xlink:href="#ar" transform="translate(147.6,413) rotate(-18) scale(1.35)"/><use href="#ar" xlink:href="#ar" transform="translate(154.2,413) rotate(-18) scale(1.35)"/><use href="#ar" xlink:href="#ar" transform="translate(160.8,413) rotate(-18) scale(1.35)"/>
<use href="#ar" xlink:href="#ar" transform="translate(167.4,413) rotate(-18) scale(1.35)"/><use href="#ar" xlink:href="#ar" transform="translate(174,413) rotate(-18) scale(1.35)"/><use href="#ar" xlink:href="#ar" transform="translate(180.6,413) rotate(-18) scale(1.35)"/><use href="#ar" xlink:href="#ar" transform="translate(187.2,413) rotate(-18) scale(1.35)"/>
<use href="#ar" xlink:href="#ar" transform="translate(193.8,413) rotate(-18) scale(1.35)"/><use href="#ar" xlink:href="#ar" transform="translate(200.4,413) rotate(-18) scale(1.35)"/><use href="#ar" xlink:href="#ar" transform="translate(207,413) rotate(-18) scale(1.35)"/><use href="#ar" xlink:href="#ar" transform="translate(213.6,413) rotate(-18) scale(1.35)"/>
<use href="#ar" xlink:href="#ar" transform="translate(220.2,413) rotate(-18) scale(1.35)"/><use href="#ar" xlink:href="#ar" transform="translate(226.8,413) rotate(-18) scale(1.35)"/><use href="#ar" xlink:href="#ar" transform="translate(233.4,413) rotate(-18) scale(1.35)"/><use href="#ar" xlink:href="#ar" transform="translate(240,413) rotate(-18) scale(1.35)"/>
<use href="#ar" xlink:href="#ar" transform="translate(246.6,413) rotate(-18) scale(1.35)"/>
</g>
<rect x="135" y="398.3" width="110" height="30.7" fill="none" stroke="#000" stroke-width="1.5"/>

<!-- mini cloud base -->
<rect x="135" y="435.5" width="110" height="78.5" fill="#87cefa"/>
<rect x="170" y="435.5" width="62" height="78.5" fill="#7ab9e6"/>
<g stroke="#000" stroke-width="1" stroke-dasharray="3 2" fill="none">
<use href="#mv" xlink:href="#mv" y="437"/>
<path d="M136 455.5H244M136 474.5H244M136 494.5H244"/>
</g>
<path d="M135 468.3L191.7 455" stroke="#000" stroke-width="1"/>
<path d="M170 450H245" stroke="#a52a2a" stroke-width="5.4" stroke-dasharray="0 6.7" stroke-linecap="round" fill="none"/>
<g fill="#a52a2a"><circle cx="150" cy="458.3" r="2.7"/><circle cx="156.7" cy="458.3" r="2.7"/><circle cx="163.3" cy="458.3" r="2.7"/><circle cx="135.5" cy="474.3" r="2.7"/><circle cx="143.3" cy="474.3" r="2.7"/></g>
<g fill="#ccc"><circle cx="135.5" cy="505" r="2.7"/><circle cx="176.7" cy="488.7" r="2.7"/><circle cx="211.7" cy="501" r="2.7"/><circle cx="218.3" cy="501" r="2.7"/><circle cx="231.7" cy="501" r="2.7"/></g>
<g fill="#999"><circle cx="198.3" cy="490" r="2.7"/><circle cx="211.7" cy="490" r="2.7"/><circle cx="218.3" cy="494" r="2.7"/><circle cx="231.7" cy="494" r="2.7"/><circle cx="185" cy="502" r="2.7"/></g>
<g fill="#555"><circle cx="143.3" cy="482" r="2.7"/><circle cx="150" cy="492.7" r="2.7"/><circle cx="156.7" cy="492.7" r="2.7"/><circle cx="163.3" cy="492.7" r="2.7"/><circle cx="170" cy="492.7" r="2.7"/><circle cx="191.7" cy="494" r="2.7"/><circle cx="205" cy="494" r="2.7"/><circle cx="225" cy="489" r="2.7"/><circle cx="238" cy="494" r="2.7"/></g>
<g fill="#000"><circle cx="191.7" cy="456" r="2.7"/><circle cx="198.3" cy="464" r="2.7"/><circle cx="205" cy="467.3" r="2.7"/><circle cx="211.7" cy="469.3" r="2.7"/><circle cx="218.3" cy="481.7" r="2.7"/><circle cx="225" cy="481.7" r="2.7"/><circle cx="231.7" cy="485" r="2.7"/><circle cx="238.3" cy="481.7" r="2.7"/><circle cx="183.3" cy="489.3" r="2.7"/><circle cx="191.7" cy="489.3" r="2.7"/><circle cx="183.3" cy="500.7" r="2.7"/></g>
<g fill="#fff"><circle cx="143.3" cy="500" r="2.7"/><circle cx="163.3" cy="500" r="2.7"/><circle cx="176.7" cy="500" r="2.7"/><circle cx="191.7" cy="500" r="2.7"/><circle cx="183.3" cy="509.3" r="2.7"/><circle cx="218.3" cy="509" r="2.7"/><circle cx="225" cy="509" r="2.7"/><circle cx="231.7" cy="509" r="2.7"/><circle cx="238.3" cy="509" r="2.7"/></g>
<polyline points="135,470.7 143.3,470.7 150,465 170,464 180,464 190,467.3 196.7,470 213.3,473.3 233.3,473.3 245,470.7" fill="none" stroke="#ff8c00" stroke-width="2"/>
<rect x="135" y="435.5" width="110" height="78.5" fill="none" stroke="#000" stroke-width="1.5"/>

<!-- mini cloud cover -->
<rect x="135" y="523.3" width="110" height="78.4" fill="#87cefa"/>
<polygon points="170,590 173.3,580 176.7,571.7 181.7,566.7 186.7,566 191.7,563.3 196.7,550 200,545 203,601.7 170,601.7" fill="#fff"/>
<polygon points="180,590 186.7,566.7 196.7,536.7 213.3,531.7 220,526.7 233.3,523.3 245,546.7 245,601.7 180,601.7" fill="#a0a0a0"/>
<polygon points="200,601.7 206.7,570 213.3,550 221.7,536.7 226.7,535 235,556.7 241,580 245,590 245,601.7" fill="#5a5a5a"/>
<polygon points="135,573.3 143.3,563.3 148.3,576.7 160,586.7 170,586.7 181.7,576.7 196.7,580 203.3,601.7 135,601.7" fill="#555"/>
<polygon points="135,590 150,588 160,592 170,598 175,601.7 135,601.7" fill="#333"/>
<polyline points="196.7,536.7 213.3,531.7 220,526.7 233.3,523.3 245,546.7" fill="none" stroke="#fff" stroke-width="1"/>
<g fill="#ffb000"><rect x="217" y="590" width="3" height="11.7"/><rect x="224" y="590" width="3" height="11.7"/><rect x="231.7" y="590" width="2.6" height="11.7"/><rect x="238.3" y="590" width="2.7" height="11.7"/></g>
<g stroke="#000" stroke-width="1" stroke-dasharray="3 2" fill="none">
<use href="#mv" xlink:href="#mv" y="524.5"/>
<path d="M136 543.5H244M136 562.5H244M136 582.5H244"/>
</g>
<rect x="135" y="523.3" width="110" height="78.4" fill="none" stroke="#000" stroke-width="1.5"/>

<!-- mini labels -->
<g font-size="13" fill="#000" text-anchor="middle">
<text x="163.5" y="51">20</text><text x="205" y="51">02</text><text x="244" y="51">08</text>
<text x="163.5" y="615">18</text><text x="203.5" y="615">00</text><text x="245" y="615">06</text>
</g>
<g font-size="11.5" fill="#000" text-anchor="end">
<text x="128" y="64">30</text><text x="128" y="81.3">20</text><text x="128" y="98.3">10</text><text x="128" y="115">0</text><text x="128" y="132.3">-10</text>
<text x="128" y="155.7">2.0</text><text x="128" y="171.7">1.5</text><text x="128" y="187.3">1.0</text><text x="128" y="205">0.5</text><text x="128" y="224">0.0</text>
<text x="128" y="235">1018</text><text x="128" y="258.3">1016</text><text x="128" y="281.7">1014</text><text x="128" y="305">1012</text>
<text x="128" y="319">20</text><text x="128" y="338.3">15</text><text x="128" y="357.3">10</text><text x="128" y="376.7">5</text><text x="128" y="395.7">0</text>
<text x="128" y="439.7">15.0</text><text x="128" y="459">7.0</text><text x="128" y="478.3">2.0</text><text x="128" y="498.3">0.5</text><text x="128" y="517.3">0.0</text>
<text x="128" y="527.3">8</text><text x="128" y="547.3">6</text><text x="128" y="566.7">4</text><text x="128" y="586.7">2</text><text x="128" y="605.7">0</text>
</g>
<g font-size="11.5" fill="#000">
<text x="254" y="64">30</text><text x="254" y="81.3">20</text><text x="254" y="98.3">10</text><text x="254" y="115">0</text><text x="250" y="132.3">-10</text>
<text x="252" y="235">1018</text><text x="252" y="258.3">1016</text><text x="252" y="281.7">1014</text><text x="252" y="305">1012</text>
<text x="252" y="319">72</text><text x="252" y="338.3">54</text><text x="252" y="357.3">36</text><text x="252" y="376.7">18</text><text x="252" y="395.7">0</text>
</g>
<g font-size="11.5" fill="#ee5522">
<text x="254" y="154.7">96</text><text x="254" y="171.7">84</text><text x="254" y="189">73</text><text x="254" y="206.3">61</text><text x="254" y="224">50</text>
</g>
<g font-size="11.5" fill="#ff8c00">
<text x="252" y="439.7">100</text><text x="252" y="459">20</text><text x="252" y="478.3">5</text><text x="252" y="498.3">1</text><text x="252" y="517.3">0</text>
<text x="252" y="527.3">1</text><text x="252" y="547.3">0.75</text><text x="252" y="566.7">0.5</text><text x="252" y="586.7">0.25</text><text x="252" y="605.7">0</text>
</g>

<!-- legend leader lines -->
<g fill="none" stroke-width="1">
<polyline points="67,16 133,16 157,43" stroke="#000"/>
<polyline points="100,43 117,43 155,97" stroke="#b22222"/>
<polyline points="92,77 115,77" stroke="#ff0000"/><polyline points="130,77 148,97" stroke="#ff0000"/>
<polyline points="68,99 135,99" stroke="#0000ff"/>
<polyline points="94,120 135,120" stroke="#6a5acd"/>
<polyline points="102,137 145,137 146,146" stroke="#ff0000"/>
<polyline points="104,152 113,152" stroke="#ee5522"/><polyline points="130,152 143,160" stroke="#ee5522"/>
<polyline points="98,166 112,166" stroke="#000"/><polyline points="130,166 137,172" stroke="#000"/>
<polyline points="70,180 138,180" stroke="#10a010"/>
<polyline points="80,191 113,191" stroke="#10a010"/><polyline points="128,191 136,191" stroke="#10a010"/>
<polyline points="70,201 112,201" stroke="#2040d0"/><polyline points="130,201 160,172" stroke="#2040d0"/>
<polyline points="80,212 133,212 160,174" stroke="#2040d0"/>
<polyline points="98,224 113,224" stroke="#ff0000"/><polyline points="130,224 143,224" stroke="#ff0000"/>
<polyline points="50,263 135,263" stroke="#000"/>
<polyline points="130,334 138,317" stroke="#ff0000"/><polyline points="110,334 115,334" stroke="#ff0000"/>
<polyline points="105,348.3 132,348.3 143,340" stroke="#ff0000"/>
<polyline points="92,368.3 135,368.3" stroke="#000080"/>
<polyline points="85,409.3 135,409.3" stroke="#000080"/>
<polyline points="98,429 133,432 183,450" stroke="#a52a2a"/>
<polyline points="57,468.3 135,468.3" stroke="#000"/>
<polyline points="57,479.3 135,479.3 143,482" stroke="#555"/>
<polyline points="57,490.7 133,490.7 140,499" stroke="#999"/>
<polyline points="57,500.7 133,500.7 137,505" stroke="#ccc"/>
<polyline points="57,510.7 135,510.7" stroke="#87cefa" stroke-width="2"/>
<polyline points="65,527.3 127,527.3 170,464" stroke="#ff8c00"/>
<polyline points="55,557 135,557" stroke="#87cefa" stroke-width="2"/>
<polyline points="53,570 192,570" stroke="#aaa"/>
<polyline points="45,582 117,582" stroke="#444"/>
<polyline points="74,594 135,594" stroke="#222"/>
<polyline points="28,605 218,605 218,590" stroke="#ffb000"/>
<polyline points="137,623 147,622 157,610" stroke="#000"/>
</g>

<!-- legend labels -->
<g font-size="11.5">
<text x="6" y="19" fill="#000" textLength="59" lengthAdjust="spacingAndGlyphs">Czas lokalny</text>
<text x="6" y="30" fill="#000" textLength="57" lengthAdjust="spacingAndGlyphs">(CET/CEST)</text>
<text x="6" y="47" fill="#b22222" textLength="93" lengthAdjust="spacingAndGlyphs">Temperatura gruntu</text>
<text x="27" y="57" fill="#b22222" textLength="39" lengthAdjust="spacingAndGlyphs">max/min</text>
<text x="6" y="67" fill="#000" textLength="62" lengthAdjust="spacingAndGlyphs">Temperatura:</text>
<text x="13" y="81" fill="#ff0000" textLength="77" lengthAdjust="spacingAndGlyphs">punkt środkowy</text>
<text x="27" y="91" fill="#ffd2d2" textLength="39" lengthAdjust="spacingAndGlyphs">max/min</text>
<text x="10" y="102" fill="#0000ff" textLength="57" lengthAdjust="spacingAndGlyphs">odczuwana</text>
<text x="27" y="112" fill="#87cefa" textLength="39" lengthAdjust="spacingAndGlyphs">max/min</text>
<text x="6" y="124" fill="#6a5acd" textLength="87" lengthAdjust="spacingAndGlyphs">Temp. punktu rosy</text>
<text x="6" y="141" fill="#ff0000" textLength="94" lengthAdjust="spacingAndGlyphs">Opad powyżej skali</text>
<text x="6" y="156" fill="#ee5522" textLength="97" lengthAdjust="spacingAndGlyphs">Wilgotność względna</text>
<text x="6" y="170" fill="#000" textLength="91" lengthAdjust="spacingAndGlyphs">Wystąpienie burzy</text>
<text x="6" y="184" fill="#10a010" textLength="36" lengthAdjust="spacingAndGlyphs">Deszcz:</text>
<text x="48" y="184" fill="#10a010" textLength="20" lengthAdjust="spacingAndGlyphs">max</text>
<text x="48" y="195" fill="#10a010" textLength="30" lengthAdjust="spacingAndGlyphs">średni</text>
<text x="6" y="205" fill="#2040d0" textLength="29" lengthAdjust="spacingAndGlyphs">Śnieg:</text>
<text x="48" y="205" fill="#2040d0" textLength="20" lengthAdjust="spacingAndGlyphs">max</text>
<text x="48" y="216" fill="#2040d0" textLength="30" lengthAdjust="spacingAndGlyphs">średni</text>
<text x="6" y="227" fill="#ff0000" textLength="91" lengthAdjust="spacingAndGlyphs">Wystąpienie opadu</text>
<text x="6" y="241" fill="#ff0000" textLength="71" lengthAdjust="spacingAndGlyphs">konwekcyjnego</text>
<text x="5" y="267" fill="#000" textLength="42" lengthAdjust="spacingAndGlyphs">Ciśnienie</text>
<text x="5" y="281" fill="#000" textLength="67" lengthAdjust="spacingAndGlyphs">zredukowane</text>
<text x="5" y="292" fill="#000" textLength="87" lengthAdjust="spacingAndGlyphs">do poziomu morza</text>
<text x="5" y="323" fill="#000" textLength="67" lengthAdjust="spacingAndGlyphs">Wiatr na 10m:</text>
<text x="10" y="338" fill="#ff0000" textLength="100" lengthAdjust="spacingAndGlyphs">poryw powyżej skali</text>
<text x="10" y="352" fill="#ff0000" textLength="94" lengthAdjust="spacingAndGlyphs">max porywy wiatru</text>
<text x="10" y="372" fill="#000080" textLength="78" lengthAdjust="spacingAndGlyphs">prędkość wiatru</text>
<text x="10" y="385" fill="#000080" textLength="88" lengthAdjust="spacingAndGlyphs">w środku obszaru</text>
<text x="10" y="413" fill="#000080" textLength="73" lengthAdjust="spacingAndGlyphs">kierunek wiatru</text>
<text x="6" y="433" fill="#a52a2a" textLength="91" lengthAdjust="spacingAndGlyphs">Wierzchołek chmur</text>
<text x="6" y="449" fill="#000" textLength="84" lengthAdjust="spacingAndGlyphs">Podstawa chmur*</text>
<text x="6" y="459" fill="#000" textLength="47" lengthAdjust="spacingAndGlyphs">o pokryciu</text>
<text x="10" y="472" fill="#000" textLength="45" lengthAdjust="spacingAndGlyphs">&gt; 7.9 okt.</text>
<text x="10" y="483" fill="#555" textLength="45" lengthAdjust="spacingAndGlyphs">&gt; 6.5 okt.</text>
<text x="10" y="495" fill="#999" textLength="45" lengthAdjust="spacingAndGlyphs">&gt; 4.5 okt.</text>
<text x="10" y="505" fill="#ccc" textLength="45" lengthAdjust="spacingAndGlyphs">&gt; 2.5 okt.</text>
<rect x="10" y="504" width="46" height="13" fill="#87cefa"/>
<text x="10" y="515" fill="#fff" textLength="45" lengthAdjust="spacingAndGlyphs">&gt; 0.1 okt.</text>
<text x="6" y="531" fill="#ff8c00" textLength="57" lengthAdjust="spacingAndGlyphs">Widzialność</text>
<text x="6" y="547" fill="#000" textLength="39" lengthAdjust="spacingAndGlyphs">Chmury:</text>
<rect x="10" y="550" width="44" height="13" fill="#87cefa"/>
<text x="11" y="561" fill="#fff" textLength="40" lengthAdjust="spacingAndGlyphs">wysokie</text>
<text x="10" y="573" fill="#aaa" textLength="35" lengthAdjust="spacingAndGlyphs">średnie</text>
<text x="10" y="586" fill="#444" textLength="26" lengthAdjust="spacingAndGlyphs">niskie</text>
<text x="10" y="598" fill="#222" textLength="62" lengthAdjust="spacingAndGlyphs">bardzo niskie</text>
<text x="6" y="609" fill="#ffb000" textLength="20" lengthAdjust="spacingAndGlyphs">Mgła</text>
<text x="6" y="627" fill="#000" font-size="12.5" textLength="131" lengthAdjust="spacingAndGlyphs">Czas uniwersalny (UTC)</text>
<text x="6" y="652" fill="#000" font-size="10" font-weight="bold" textLength="102" lengthAdjust="spacingAndGlyphs">* powyżej poziomu morza</text>
</g>
</svg>
</body></html>
